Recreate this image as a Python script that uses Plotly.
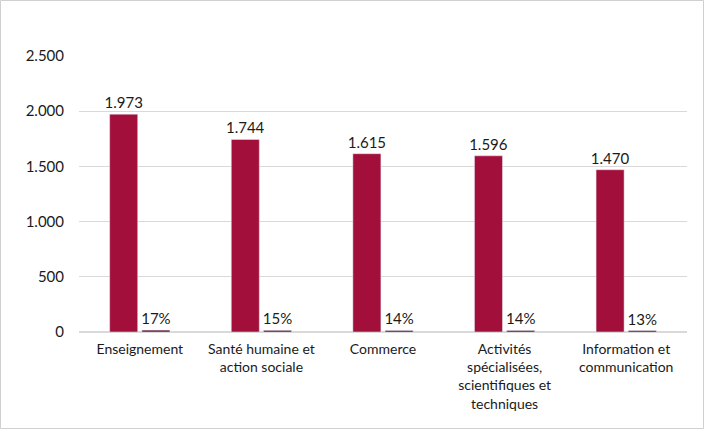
import plotly.graph_objects as go

# données
categories = [
    "Enseignement",
    "Santé humaine et<br>action sociale",
    "Commerce",
    "Activités<br>spécialisées,<br>scientifiques et<br>techniques",
    "Information et<br>communication",
]
effectifs = [1973, 1744, 1615, 1596, 1470]
parts_pct = [17, 15, 14, 14, 13]

FONT = "Lato, 'Open Sans', sans-serif"

fig = go.Figure()

fig.add_trace(go.Bar(
    x=categories,
    y=effectifs,
    marker_color="#A20F3B",
    texttemplate="%{y:,}",
    textposition="outside",
    constraintext="none",
    textfont=dict(size=15, color="#1a1a1a"),
    cliponaxis=False,
    hoverinfo="skip",
))

fig.add_trace(go.Bar(
    x=categories,
    y=parts_pct,
    marker_color="#5C1030",
    text=[f"{v}%" for v in parts_pct],
    texttemplate="%{text}",
    textposition="outside",
    constraintext="none",
    textfont=dict(size=15, color="#1a1a1a"),
    cliponaxis=False,
    hoverinfo="skip",
))

W, H = 704, 429
ml, mr, mt, mb = 79, 17, 56, 97
pw, ph = W - ml - mr, H - mt - mb

fig.update_layout(
    width=W,
    height=H,
    barmode="group",
    bargap=0.47,
    bargroupgap=0.13,
    separators=",.",
    showlegend=False,
    plot_bgcolor="white",
    paper_bgcolor="white",
    font=dict(family=FONT, color="#1a1a1a"),
    margin=dict(l=ml, r=mr, t=mt, b=mb),
    xaxis=dict(
        tickfont=dict(size=14, color="#1a1a1a"),
        showline=False,
        ticks="",
        ticklabelstandoff=7,
    ),
    yaxis=dict(
        range=[0, 2500],
        dtick=500,
        tickformat=",",
        tickfont=dict(size=15, color="#1a1a1a"),
        gridcolor="#d9d9d9",
        zeroline=True,
        zerolinecolor="#d9d9d9",
        ticks="",
        ticklabelstandoff=14,
    ),
    shapes=[dict(
        type="rect", xref="paper", yref="paper",
        x0=-ml / pw + 0.5 / pw, x1=1 + (mr - 0.5) / pw,
        y0=-mb / ph + 0.5 / ph, y1=1 + (mt - 0.5) / ph,
        line=dict(color="#d0d0d0", width=1),
        layer="below",
    )],
)

fig.write_html("out.html", config={"displayModeBar": False},
               post_script="document.body.style.margin='0';")
